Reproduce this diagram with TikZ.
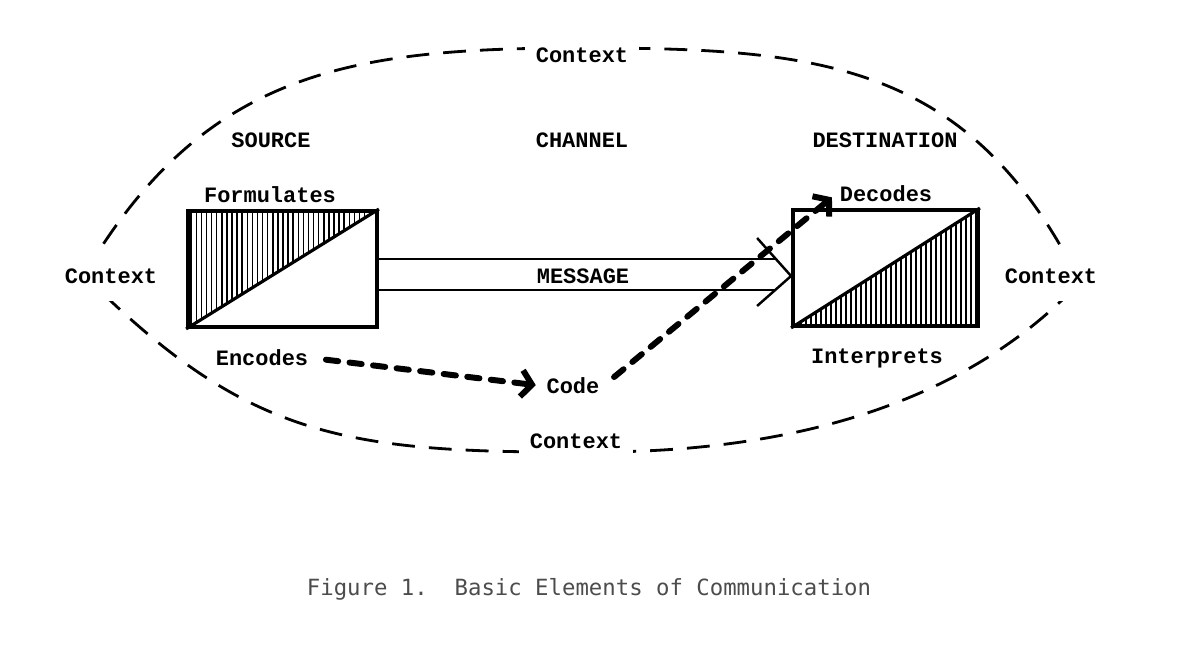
\documentclass[tikz,border=0pt]{standalone}
\usepackage{fontspec}
\setmonofont{Liberation Mono}
\newfontfamily\capfont{DejaVu Sans Mono}
\usepackage{tikz}
\usetikzlibrary{arrows.meta, calc, positioning}

\begin{document}
\begin{tikzpicture}[x=0.02cm, y=-0.02cm,
    lbl/.style={font=\ttfamily\bfseries\fontsize{12.5}{14}\selectfont, inner sep=2pt},
    ctx/.style={lbl, fill=white, inner ysep=4pt, inner xsep=6pt},
    khung/.style={draw, line width=2.2pt, minimum width=3.78cm, minimum height=2.32cm, inner sep=0pt},
    chan/.style={line width=1.4pt},
    vien/.style={line width=1.6pt, dash pattern=on 13pt off 8pt},
    soc/.style={line width=0.85pt},
    mui/.style={line width=3.4pt, line cap=round, dash pattern=on 7pt off 6.5pt,
        -{Straight Barb[length=6pt, width=15pt]}}]

    \useasboundingbox (0,0) rectangle (1178,652);

    % Vẽ đường ngữ cảnh
    \draw[vien] (84,275) .. controls (204,71) and (350,48) .. (582,48)
        .. controls (820,48) and (970,62) .. (1080,282)
        .. controls (970,399) and (800,454) .. (582,452)
        .. controls (340,453) and (244,435) .. (84,275);

    % Các nhãn
    \node[ctx] (ctop) at (582,55) {Context};
    \node[ctx, inner ysep=6pt] (cbot) at (576,441) {Context};
    \node[ctx, inner ysep=10pt] (cleft) at (111,276) {Context};
    \node[ctx, inner ysep=10pt] (cright) at (1051,276) {Context};
    \node[lbl] (source) at (271,140) {SOURCE};
    \node[lbl] (channel) at (582,140) {CHANNEL};
    \node[lbl] (dest) at (885,140) {DESTINATION};
    \node[lbl] (form) at (270,195) {Formulates};
    \node[lbl] (dec) at (886,194) {Decodes};
    \node[lbl] (enc) at (262,358) {Encodes};
    \node[lbl] (interp) at (877,358) {Interprets};
    \node[lbl] (code) at (573,386) {Code};
    \node[lbl] (msg) at (583,276) {MESSAGE};

    % Hai khối nguồn và đích
    \node[khung] (src) at (282.5,269) {};
    \node[khung, minimum width=3.7cm] (dst) at (885.5,268) {};

    % Gạch sọc
    \begin{scope}
        \clip (src.south west) -- (src.north west) -- (src.north east) -- cycle;
        \foreach \i in {0,...,37}
            \draw[soc] ($(src.north west)+(5.1*\i,0)$) -- ++(0,120);
    \end{scope}
    \begin{scope}
        \clip (dst.south west) -- (dst.south east) -- (dst.north east) -- cycle;
        \foreach \i in {0,...,37}
            \draw[soc] ($(dst.south west)+(5*\i,0)$) -- ++(0,-120);
    \end{scope}
    \draw[line width=1.8pt] (src.south west) -- (src.north east);
    \draw[line width=1.8pt] (dst.south west) -- (dst.north east);

    % Kênh thông điệp
    \coordinate (tip) at (dst.west |- msg.center);
    \draw[chan] ($(src.east |- tip)+(0,-17)$) -- ($(tip)+(-15,-17)$);
    \draw[chan] ($(src.east |- tip)+(0,14)$) -- ($(tip)+(-16,14)$);
    \draw[chan] ($(tip)+(-34,-38)$) -- (tip) -- ($(tip)+(-34,30)$);

    % Mũi tên mã hóa
    \draw[mui, shorten <=8pt, shorten >=4pt] (enc.east) -- (code.west);
    \draw[mui, shorten <=8pt, shorten >=3pt] (code.east) -- (dec.west);

    % Chú thích
    \node[font=\capfont\fontsize{12.7}{15}\selectfont, text=black!70] (cap) at (589,589)
        {Figure~1.~~Basic Elements of Communication};

\end{tikzpicture}
\end{document}
